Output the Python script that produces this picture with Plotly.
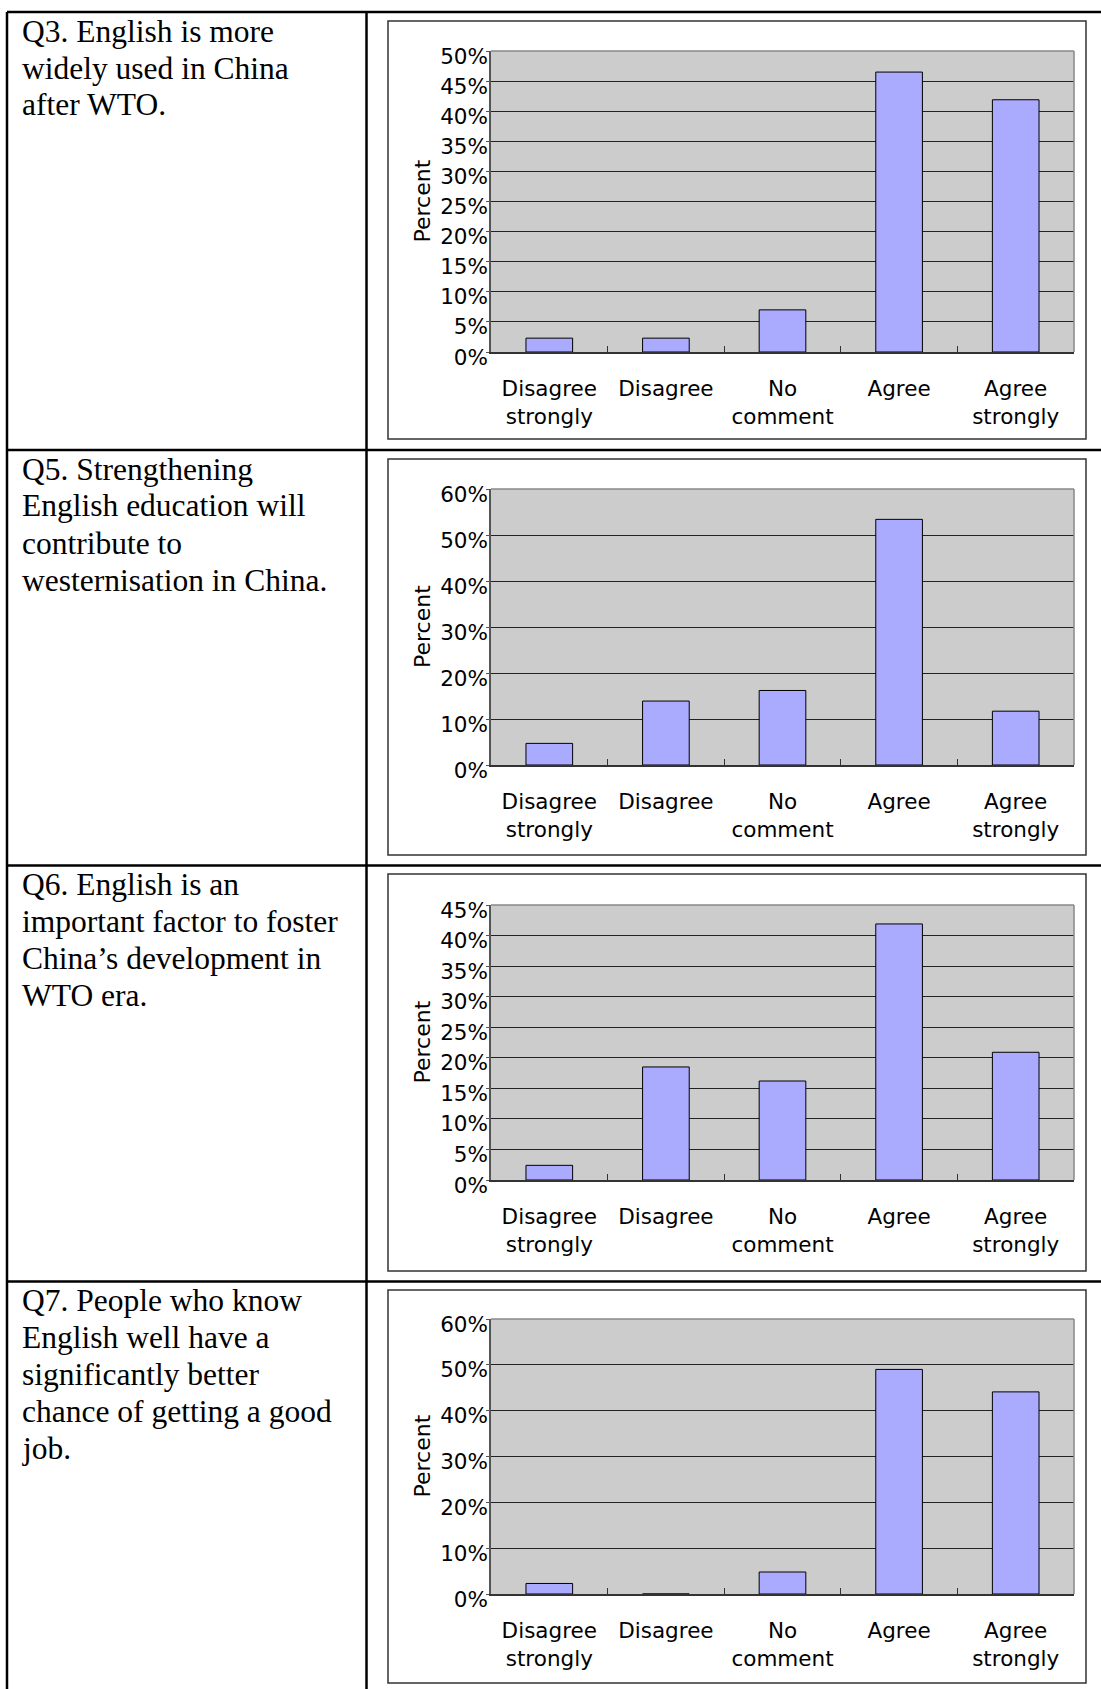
import plotly.graph_objects as go

W, H = 1101, 1689

categories = ["Disagree<br>strongly", "Disagree", "No<br>comment", "Agree", "Agree<br>strongly"]

q3_values = [2.3, 2.3, 7.0, 46.5, 41.9]
q5_values = [4.7, 13.9, 16.2, 53.4, 11.7]
q6_values = [2.4, 18.5, 16.2, 41.9, 20.9]
q7_values = [2.3, 0.0, 4.8, 49.0, 44.1]

q3_text = ["Q3. English is more", "widely used in China", "after WTO."]
q5_text = ["Q5. Strengthening", "English education will", "contribute to", "westernisation in China."]
q6_text = ["Q6. English is an", "important factor to foster", "China\u2019s development in", "WTO era."]
q7_text = ["Q7. People who know", "English well have a", "significantly better",
           "chance of getting a good", "job."]

y_max = [50, 60, 45, 60]
y_step = [5, 10, 5, 10]

values = [q3_values, q5_values, q6_values, q7_values]
texts = [q3_text, q5_text, q6_text, q7_text]

# pixel layout of each table row: row top, chart box top/bottom, plot top/bottom
rows = [
    (12, 21, 439, 51, 352),
    (450, 459, 855, 489, 765),
    (865.5, 874, 1271, 905, 1180),
    (1281.5, 1290, 1683, 1319, 1594),
]
PX0, PX1 = 491, 1074
BOX0, BOX1 = 388, 1086


def fx(px):
    return px / W


def fy(py):
    return 1 - py / H


tick_font = dict(family="DejaVu Sans", size=21.5, color="black")
title_font = dict(family="DejaVu Sans", size=22, color="black")
serif = dict(family="Liberation Serif", size=31.5, color="black")

fig = go.Figure()
shapes = []
annotations = []

for i, (vals, lines, ymax, step, (row_top, box_top, box_bot, p_top, p_bot)) in enumerate(
        zip(values, texts, y_max, y_step, rows)):
    n = "" if i == 0 else str(i + 1)
    fig.add_trace(go.Bar(x=categories, y=vals, xaxis="x" + n, yaxis="y" + n,
                         marker=dict(color="#AAAAFF", line=dict(color="black", width=1)),
                         showlegend=False))

    fig.layout["xaxis" + n] = dict(
        domain=[fx(PX0), fx(PX1)], anchor="y" + n, type="category", automargin=False,
        range=[-0.5, 4.5], tickson="boundaries", ticks="inside", ticklen=6,
        tickcolor="#333", showline=True, linecolor="#333", linewidth=1.5,
        showgrid=False, tickfont=tick_font, ticklabelstandoff=16, fixedrange=True)
    fig.layout["yaxis" + n] = dict(
        domain=[fy(p_bot), fy(p_top)], anchor="x" + n, range=[0, ymax], dtick=step,
        automargin=False, ticksuffix="%", showgrid=True, gridcolor="#222", gridwidth=1,
        showline=True, linecolor="#555", linewidth=1.5, ticks="outside", ticklen=3,
        tickcolor="#555", zeroline=False, tickfont=tick_font, ticklabelshift=5,
        ticklabelstandoff=-6, fixedrange=True)

    # chart frame
    shapes.append(dict(type="rect", xref="paper", yref="paper",
                       x0=fx(BOX0), x1=fx(BOX1), y0=fy(box_bot), y1=fy(box_top),
                       line=dict(color="#333", width=1.5), layer="below"))
    # grey top / right border of plot area
    shapes.append(dict(type="line", xref="paper", yref="paper",
                       x0=fx(PX0), x1=fx(PX1), y0=fy(p_top), y1=fy(p_top),
                       line=dict(color="#888", width=1.5), layer="above"))
    shapes.append(dict(type="line", xref="paper", yref="paper",
                       x0=fx(PX1), x1=fx(PX1), y0=fy(p_bot), y1=fy(p_top),
                       line=dict(color="#888", width=1.5), layer="above"))

    annotations.append(dict(text="Percent", xref="paper", yref="paper",
                            x=fx(422), y=fy((p_top + p_bot) / 2), textangle=-90,
                            showarrow=False, font=title_font,
                            xanchor="center", yanchor="middle"))

    for k, line in enumerate(lines):
        base = row_top + 30 + 37 * k
        annotations.append(dict(text=line, xref="paper", yref="paper",
                                x=fx(19.5), y=fy(base - 11), showarrow=False,
                                font=serif, xanchor="left", yanchor="middle"))

    if i > 0:
        shapes.append(dict(type="line", xref="paper", yref="paper",
                           x0=fx(7), x1=1, y0=fy(row_top), y1=fy(row_top),
                           line=dict(color="black", width=2.5)))

# table outline
shapes.append(dict(type="line", xref="paper", yref="paper", x0=fx(7), x1=1,
                   y0=fy(12), y1=fy(12), line=dict(color="black", width=2.5)))
shapes.append(dict(type="line", xref="paper", yref="paper", x0=fx(7), x1=fx(7),
                   y0=0, y1=fy(12), line=dict(color="black", width=2.5)))
shapes.append(dict(type="line", xref="paper", yref="paper", x0=fx(366.5), x1=fx(366.5),
                   y0=0, y1=fy(12), line=dict(color="black", width=2.5)))

fig.update_layout(
    width=W, height=H, autosize=False,
    margin=dict(l=0, r=0, t=0, b=0, autoexpand=False),
    paper_bgcolor="white", plot_bgcolor="#CCCCCC",
    bargap=0.6, shapes=shapes, annotations=annotations,
)

fig.write_html("out.html", config={"displayModeBar": False},
               post_script="document.body.style.margin='0';")
